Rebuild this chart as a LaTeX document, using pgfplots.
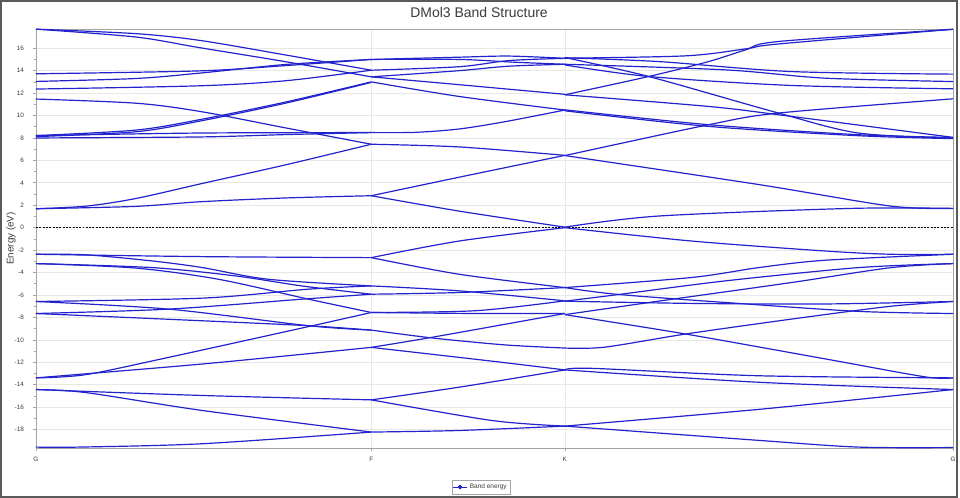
\documentclass[border=0pt]{standalone}
\usepackage{fontspec}
\setmainfont{Liberation Sans}
\usepackage{pgfplots}
\pgfplotsset{compat=1.18}
\definecolor{bandblue}{RGB}{35,35,205}
\definecolor{framegray}{RGB}{165,165,165}
\definecolor{gridgray}{RGB}{232,232,232}
\definecolor{textgray}{RGB}{60,60,60}
\definecolor{bordergray}{RGB}{90,90,90}
\pgfplotsset{band/.style={bandblue, line width=0.9pt, smooth, forget plot}}

\begin{document}
\begin{tikzpicture}
\fill[white] (0,0) rectangle (720pt,374.25pt);
\begin{axis}[
  at={(27pt,37.5pt)}, anchor=south west,
  scale only axis, width=689.25pt, height=315pt,
  xmin=0, xmax=919, ymin=-19.65, ymax=17.72,
  xtick={0,336,530,919}, xticklabels={G,F,K,G},
  ytick={-18,-16,...,16}, minor y tick num=1,
  xtick pos=left, ytick pos=left,
  grid=major, major grid style={gridgray, line width=0.5pt},
  axis line style={framegray, line width=0.6pt},
  tick style={framegray, line width=0.5pt},
  tick align=outside, major tick length=2.5pt, minor tick length=1.5pt,
  ticklabel style={font=\fontsize{4.8}{5}\selectfont, text=textgray},
  /pgf/number format/assume math mode=true,
  yticklabel style={xshift=-3pt},
  xticklabel style={yshift=-1pt},
  ylabel={Energy (eV)},
  ylabel style={at={(axis description cs:-0.0272,0.5)}, anchor=center,
    font=\fontsize{7.4}{8}\selectfont, text=textgray},
  legend style={at={(axis description cs:0.4855,-0.0929)}, anchor=center,
    draw=framegray, font=\fontsize{4.9}{5}\selectfont, inner sep=0.8pt,
    text=textgray},
  legend image code/.code={\draw[mark repeat=2,mark phase=2,#1]
    plot coordinates {(0pt,0pt) (5pt,0pt) (10pt,0pt)};},
]
% Fermi level
\addplot[black, line width=0.5pt, dash pattern=on 1.5pt off 1pt, forget plot]
  coordinates {(0,0) (919,0)};

% ---- G -> F, conduction side
\addplot[band] coordinates {(0,17.7) (100,17.3) (164,16.7) (250,15.4) (336,14.04)};
\addplot[band] coordinates {(0,17.7) (100,17.0) (164,16.05) (250,14.8) (336,13.45)};
\addplot[band] coordinates {(0,13.72) (164,13.98) (250,14.45) (336,15.0)};
\addplot[band] coordinates {(0,13.04) (100,13.3) (164,13.78) (250,14.55) (336,15.0)};
\addplot[band] coordinates {(0,12.36) (164,12.65) (250,13.1) (336,14.04)};
\addplot[band] coordinates {(0,8.21) (100,8.7) (164,9.63) (250,11.2) (336,13.0)};
\addplot[band] coordinates {(0,8.12) (100,8.55) (164,9.5) (250,11.1) (336,12.95)};
\addplot[band] coordinates {(0,8.21) (164,8.44) (336,8.48)};
\addplot[band] coordinates {(0,8.0) (164,8.09) (250,8.3) (336,8.48)};
\addplot[band] coordinates {(0,11.47) (100,11.1) (164,10.37) (250,8.9) (336,7.44)};
\addplot[band] coordinates {(0,1.69) (50,1.92) (100,2.6) (167,3.95) (250,5.6) (336,7.44)};
\addplot[band] coordinates {(0,1.69) (100,1.9) (164,2.31) (250,2.65) (336,2.85)};

% ---- F -> K, conduction side
\addplot[band] coordinates {(336,15.0) (424,15.2) (474,15.3) (530,15.1)};
\addplot[band] coordinates {(336,14.04) (424,14.35) (474,14.9) (530,15.1)};
\addplot[band] coordinates {(336,13.45) (424,14.0) (474,14.4) (530,14.57)};
\addplot[band] coordinates {(336,15.0) (424,15.0) (480,14.75) (530,14.57)};
\addplot[band] coordinates {(336,13.45) (424,12.75) (530,11.89)};
\addplot[band] coordinates {(336,13.0) (424,11.7) (530,10.49)};
\addplot[band] coordinates {(336,8.48) (380,8.5) (424,8.8) (470,9.45) (530,10.49)};
\addplot[band] coordinates {(336,7.44) (424,7.2) (530,6.45)};
\addplot[band] coordinates {(336,2.85) (424,4.5) (530,6.45)};
\addplot[band] coordinates {(336,2.85) (424,1.48) (530,0.05)};

% ---- K -> G, conduction side
\addplot[band] coordinates {(530,11.85) (614,13.48) (674,14.81) (711,15.85) (744,16.6) (919,17.69)};
\addplot[band] coordinates {(530,15.11) (651,15.32) (711,15.94) (744,16.38) (919,17.69)};
\addplot[band] coordinates {(530,15.15) (624,14.81) (757,13.92) (919,13.69)};
\addplot[band] coordinates {(530,14.57) (691,14.07) (791,13.33) (919,13.03)};
\addplot[band] coordinates {(530,14.51) (614,13.48) (757,12.68) (919,12.38)};
\addplot[band] coordinates {(530,15.17) (614,13.48) (744,10.22) (824,8.44) (919,7.99)};
\addplot[band] coordinates {(530,11.85) (674,10.81) (744,10.07) (919,8.05)};
\addplot[band] coordinates {(530,10.51) (674,9.18) (824,8.29) (919,8.05)};
\addplot[band] coordinates {(530,10.42) (674,9.03) (824,8.2) (919,7.94)};
\addplot[band] coordinates {(530,6.43) (674,9.18) (744,10.22) (919,11.49)};
\addplot[band] coordinates {(530,6.43) (724,3.85) (857,1.92) (919,1.72)};
\addplot[band] coordinates {(530,0.05) (624,1.04) (817,1.72) (919,1.72)};

% ---- G -> F, valence side
\addplot[band] coordinates {(0,-2.37) (167,-2.58) (336,-2.67)};
\addplot[band] coordinates {(0,-2.37) (50,-2.42) (117,-2.97) (167,-3.56) (233,-4.6) (336,-5.19)};
\addplot[band] coordinates {(0,-3.2) (117,-3.56) (200,-4.3) (267,-5.2) (336,-5.93)};
\addplot[band] coordinates {(0,-3.2) (100,-3.6) (183,-4.6) (273,-6.37) (336,-7.56)};
\addplot[band] coordinates {(0,-6.58) (167,-6.28) (273,-5.48) (336,-5.19)};
\addplot[band] coordinates {(0,-7.65) (133,-7.26) (267,-6.37) (336,-5.93)};
\addplot[band] coordinates {(0,-6.58) (133,-7.26) (273,-8.74) (336,-9.13)};
\addplot[band] coordinates {(0,-7.65) (167,-8.3) (273,-8.74) (336,-9.13)};
\addplot[band] coordinates {(0,-13.39) (50,-13.1) (133,-11.56) (277,-8.74) (336,-7.56)};
\addplot[band] coordinates {(0,-13.39) (167,-12.15) (336,-10.67)};
\addplot[band] coordinates {(0,-14.43) (167,-14.96) (336,-15.35)};
\addplot[band] coordinates {(0,-14.43) (50,-14.7) (167,-16.3) (336,-18.22)};
\addplot[band] coordinates {(0,-19.56) (43,-19.56) (167,-19.26) (336,-18.22)};

% ---- F -> K, valence side
\addplot[band] coordinates {(336,-2.67) (424,-1.19) (530,0.0)};
\addplot[band] coordinates {(336,-2.67) (424,-4.15) (530,-5.34)};
\addplot[band] coordinates {(336,-5.19) (424,-5.63) (530,-6.52)};
\addplot[band] coordinates {(336,-5.93) (424,-5.78) (530,-5.34)};
\addplot[band] coordinates {(336,-7.56) (441,-7.4) (530,-6.52)};
\addplot[band] coordinates {(336,-7.56) (441,-7.65) (530,-7.65)};
\addplot[band] coordinates {(336,-9.13) (397,-9.83) (470,-10.45) (530,-10.73)};
\addplot[band] coordinates {(336,-10.67) (397,-9.77) (530,-7.65)};
\addplot[band] coordinates {(336,-10.67) (457,-11.9) (530,-12.68)};
\addplot[band] coordinates {(336,-15.35) (424,-14.22) (530,-12.68)};
\addplot[band] coordinates {(336,-15.35) (457,-17.19) (530,-17.69)};
\addplot[band] coordinates {(336,-18.22) (424,-18.08) (530,-17.69)};

% ---- K -> G, valence side
\addplot[band] coordinates {(530,0.0) (657,-1.19) (791,-2.08) (857,-2.37) (919,-2.37)};
\addplot[band] coordinates {(530,-5.34) (657,-4.44) (724,-3.56) (791,-2.9) (919,-2.37)};
\addplot[band] coordinates {(530,-5.34) (581,-5.93) (691,-6.67) (824,-7.46) (919,-7.65)};
\addplot[band] coordinates {(530,-6.55) (657,-6.75) (791,-6.8) (919,-6.58)};
\addplot[band] coordinates {(530,-6.55) (581,-5.99) (691,-4.74) (824,-3.56) (919,-3.2)};
\addplot[band] coordinates {(530,-7.75) (631,-6.46) (757,-4.89) (857,-3.56) (919,-3.2)};
\addplot[band] coordinates {(530,-7.75) (651,-9.48) (791,-11.7) (891,-13.3) (919,-13.39)};
\addplot[band] coordinates {(530,-10.73) (570,-10.65) (651,-9.48) (757,-8.15) (857,-7.0) (919,-6.58)};
\addplot[band] coordinates {(530,-12.68) (557,-12.54) (724,-13.2) (919,-13.39)};
\addplot[band] coordinates {(530,-12.68) (724,-13.78) (919,-14.43)};
\addplot[band] coordinates {(530,-17.69) (724,-16.2) (919,-14.43)};
\addplot[band] coordinates {(530,-17.69) (724,-18.96) (824,-19.56) (919,-19.6)};

\addlegendimage{bandblue, line width=0.6pt, mark=*, mark size=1.4pt}
\addlegendentry{Band energy}
\end{axis}
\node[font=\fontsize{10.5}{12}\selectfont, text=textgray] at (360pt,364.5pt) {DMol3 Band Structure};
\draw[bordergray, line width=1.5pt] (0.75pt,0.75pt) rectangle (719.25pt,373.5pt);
\end{tikzpicture}
\end{document}
